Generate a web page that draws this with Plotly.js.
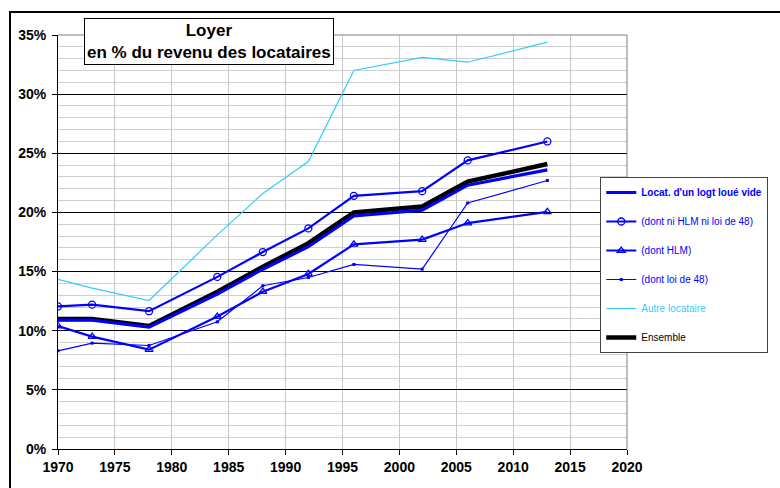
<!DOCTYPE html>
<html>
<head>
<meta charset="utf-8">
<script src="https://cdn.plot.ly/plotly-3.0.1.min.js"></script>
<style>
  html, body { margin: 0; padding: 0; background: #fff; }
  #wrap { position: relative; width: 780px; height: 488px; overflow: hidden; }
  #chart { position: absolute; left: 0; top: 0; width: 780px; height: 488px; }
  #frame { position: absolute; left: 9px; top: 11px; width: 900px; height: 600px;
           border-left: 2.5px solid #000; border-top: 2.5px solid #000; pointer-events: none; }
</style>
</head>
<body>
<div id="wrap">
  <div id="chart"></div>
  <div id="frame"></div>
</div>
<script>
// ---- Data (percent of tenants' income) ----
const years = [1970, 1973, 1978, 1984, 1988, 1992, 1996, 2002, 2006, 2013];
const locatVide = [10.9, 10.9, 10.3, 13.1, 15.2, 17.1, 19.7, 20.2, 22.3, 23.6];
const niHlmNiLoi48 = [12.05, 12.2, 11.65, 14.55, 16.65, 18.65, 21.4, 21.8, 24.4, 26.0];
const dontHlm = [10.4, 9.5, 8.4, 11.2, 13.3, 14.8, 17.3, 17.7, 19.1, 20.05];
const dontLoi48 = [8.3, 8.95, 8.75, 10.75, 13.8, 14.5, 15.6, 15.2, 20.8, 22.7];
const autreLocataire = [14.35, 13.6, 12.55, 18.1, 21.6, 24.3, 32.0, 33.1, 32.7, 34.4];
const ensemble = [11.0, 11.0, 10.4, 13.3, 15.4, 17.4, 20.0, 20.5, 22.6, 24.1];

const seriesNames = [
  "Locat. d'un logt loué vide",
  "(dont ni HLM ni loi de 48)",
  "(dont HLM)",
  "(dont loi de 48)",
  "Autre locataire",
  "Ensemble"
];
const xTicks = [1970, 1975, 1980, 1985, 1990, 1995, 2000, 2005, 2010, 2015, 2020];
const yTicks = [0, 5, 10, 15, 20, 25, 30, 35];

const BLUE = '#0000ff', CYAN = '#33ccff';

const traces = [
  { x: years, y: autreLocataire, mode: 'lines', name: '<span style="color:' + CYAN + '">' + seriesNames[4] + '</span>',
    line: { color: CYAN, width: 1.2 }, legendrank: 5, legendgroup: 'g5' },
  { x: years, y: dontLoi48, mode: 'lines+markers', name: '<span style="color:' + BLUE + '">' + seriesNames[3] + '</span>',
    line: { color: BLUE, width: 1.2 }, marker: { symbol: 'square', size: 3, color: BLUE }, legendrank: 4, legendgroup: 'g4' },
  { x: years, y: dontHlm, mode: 'lines+markers', name: '<span style="color:' + BLUE + '">' + seriesNames[2] + '</span>',
    line: { color: BLUE, width: 2.2 }, marker: { symbol: 'triangle-up-open', size: 7, color: BLUE, line: { width: 1.3, color: BLUE } }, legendrank: 3, legendgroup: 'g3' },
  { x: years, y: niHlmNiLoi48, mode: 'lines+markers', name: '<span style="color:' + BLUE + '">' + seriesNames[1] + '</span>',
    line: { color: BLUE, width: 2.2 }, marker: { symbol: 'circle-open', size: 7, color: BLUE, line: { width: 1.3, color: BLUE } }, legendrank: 2, legendgroup: 'g2' },
  { x: years, y: ensemble, mode: 'lines', name: seriesNames[5],
    line: { color: '#000000', width: 4.5 }, legendrank: 6, legendgroup: 'g6' },
  { x: years, y: locatVide, mode: 'lines', name: '<span style="color:' + BLUE + '"><b>' + seriesNames[0] + '</b></span>',
    line: { color: BLUE, width: 3.2 }, legendrank: 1, legendgroup: 'g1' }
];

const layout = {
  width: 780, height: 488,
  margin: { l: 58, r: 150, t: 35, b: 39, pad: 0 },
  paper_bgcolor: '#ffffff', plot_bgcolor: '#ffffff',
  font: { family: 'Liberation Sans, Arial, sans-serif', color: '#000' },
  showlegend: true,
  legend: {
    x: 0.953, y: 0.657, xanchor: 'left', yanchor: 'top',
    bgcolor: '#ffffff', bordercolor: '#444', borderwidth: 1,
    font: { size: 10, family: 'Liberation Sans, Arial, sans-serif', color: '#000' },
    traceorder: 'grouped', tracegroupgap: 10, itemwidth: 30
  },
  xaxis: {
    range: [1970, 2020], tickvals: xTicks, ticktext: xTicks.map(String),
    showline: true, linecolor: '#000', linewidth: 1,
    ticks: 'outside', ticklen: 5, tickcolor: '#000',
    showgrid: true, gridcolor: '#c8c8c8', gridwidth: 1,
    zeroline: false, fixedrange: true,
    tickfont: { size: 14, family: 'Liberation Sans, Arial, sans-serif', weight: 'bold' }
  },
  yaxis: {
    range: [0, 35], tickvals: yTicks, ticktext: yTicks.map(v => v + '%'),
    showline: true, linecolor: '#000', linewidth: 1,
    ticks: 'outside', ticklen: 5, tickcolor: '#000', ticklabelstandoff: 3,
    showgrid: true, gridcolor: '#000', gridwidth: 1,
    minor: { dtick: 1, showgrid: true, gridcolor: '#d0d0d0', gridwidth: 1 },
    zeroline: false, fixedrange: true,
    tickfont: { size: 14, family: 'Liberation Sans, Arial, sans-serif', weight: 'bold' }
  },
  shapes: [
    { type: 'line', xref: 'paper', yref: 'paper', x0: 0, x1: 1, y0: 1, y1: 1, line: { color: '#808080', width: 1 } },
    { type: 'line', xref: 'paper', yref: 'paper', x0: 1, x1: 1, y0: 0, y1: 1, line: { color: '#808080', width: 1 } }
  ],
  annotations: [
    { xref: 'paper', yref: 'paper', x: 0.2657, y: 0.984, xanchor: 'center', yanchor: 'middle',
      text: '<b>Loyer<br>en % du revenu des locataires</b>', showarrow: false, align: 'center',
      font: { size: 17, family: 'Liberation Sans, Arial, sans-serif', color: '#000' },
      bgcolor: '#ffffff', bordercolor: '#000', borderwidth: 1, borderpad: 2 }
  ]
};

Plotly.newPlot('chart', traces, layout, { displayModeBar: false, staticPlot: true });
</script>
</body>
</html>
